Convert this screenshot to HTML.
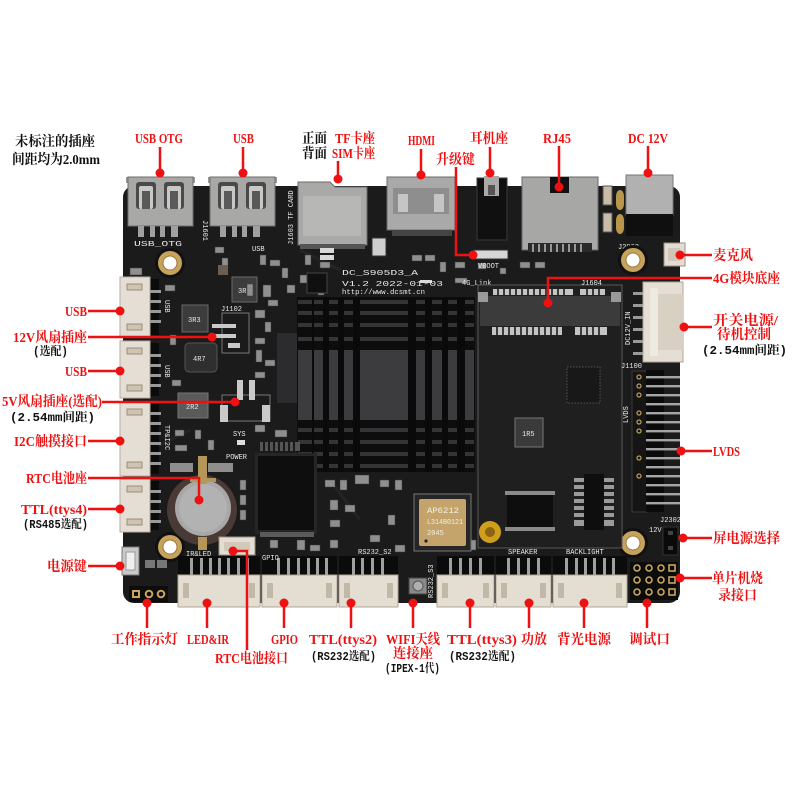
<!DOCTYPE html>
<html><head><meta charset="utf-8">
<style>
html,body{margin:0;padding:0;background:#fff;}
svg{display:block;}
.r{fill:#ee1111;font-family:"Liberation Serif","Noto Serif CJK SC",serif;font-weight:bold;font-size:14px;}
.k{fill:#111;font-family:"Liberation Mono","Noto Serif CJK SC",serif;font-weight:bold;font-size:12px;}
.kb{fill:#111;font-family:"Liberation Serif","Noto Serif CJK SC",serif;font-weight:bold;font-size:14px;}
.s{fill:#e8e8e8;font-family:"Liberation Mono",monospace;font-size:7px;}
.ln{stroke:#ee1111;stroke-width:2.5;fill:none;}
.d{fill:#ee1111;}
</style></head><body>
<svg width="800" height="800" viewBox="0 0 800 800" xmlns="http://www.w3.org/2000/svg">
<rect width="800" height="800" fill="#fff"/>

<!-- ===== BOARD ===== -->
<rect x="123" y="186" width="557" height="417" rx="11" fill="#1b1b1b"/>
<!-- subtle traces -->
<g stroke="#242424" stroke-width="3" fill="none">
<path d="M300 250 L340 270 M150 450 L190 430 M330 480 L360 520 M540 360 L600 420 M500 460 L560 440"/>
</g>

<!-- ===== TOP CONNECTORS ===== -->
<!-- USB OTG -->
<rect x="126" y="177" width="69" height="6" fill="#9a9a98"/>
<rect x="128" y="177" width="65" height="49" fill="#a8a8a6" stroke="#6e6e6e"/>
<rect x="136" y="182" width="20" height="27" rx="3" fill="#4a4a4a"/>
<rect x="139" y="186" width="14" height="23" rx="2" fill="#c8c8c6"/>
<rect x="142" y="191" width="8" height="18" fill="#5a5a5a"/>
<rect x="164" y="182" width="20" height="27" rx="3" fill="#4a4a4a"/>
<rect x="167" y="186" width="14" height="23" rx="2" fill="#c8c8c6"/>
<rect x="170" y="191" width="8" height="18" fill="#5a5a5a"/>
<g fill="#a0a0a0"><rect x="138" y="226" width="6" height="11"/><rect x="150" y="226" width="5" height="11"/><rect x="160" y="226" width="5" height="11"/><rect x="171" y="226" width="7" height="11"/></g>
<text x="134" y="246" class="s" font-size="9" textLength="48" lengthAdjust="spacingAndGlyphs">USB_OTG</text>
<!-- USB -->
<rect x="208" y="177" width="69" height="6" fill="#9a9a98"/>
<rect x="210" y="177" width="65" height="49" fill="#a8a8a6" stroke="#6e6e6e"/>
<rect x="218" y="182" width="20" height="27" rx="3" fill="#4a4a4a"/>
<rect x="221" y="186" width="14" height="23" rx="2" fill="#c8c8c6"/>
<rect x="224" y="191" width="8" height="18" fill="#5a5a5a"/>
<rect x="246" y="182" width="20" height="27" rx="3" fill="#4a4a4a"/>
<rect x="249" y="186" width="14" height="23" rx="2" fill="#c8c8c6"/>
<rect x="252" y="191" width="8" height="18" fill="#5a5a5a"/>
<g fill="#a0a0a0"><rect x="220" y="226" width="6" height="11"/><rect x="232" y="226" width="5" height="11"/><rect x="242" y="226" width="5" height="11"/><rect x="253" y="226" width="7" height="11"/></g>
<text x="252" y="251" class="s" font-size="9">USB</text>
<text x="0" y="0" class="s" transform="translate(203,220) rotate(90)">J1601</text>
<!-- TF card -->
<path d="M298 182 L330 182 L335 187 L367 187 L367 245 L298 245 Z" fill="#a9a9a7" stroke="#6a6a6a"/>
<rect x="303" y="196" width="58" height="40" fill="#b7b7b5"/>
<rect x="300" y="244" width="65" height="5" fill="#555"/>
<text x="0" y="0" class="s" font-size="8" transform="translate(293,245) rotate(-90)">J1603 TF CARD</text>
<!-- HDMI -->
<rect x="387" y="177" width="68" height="53" fill="#a9a9a9" stroke="#6a6a6a"/>
<rect x="393" y="188" width="56" height="26" fill="#8e8e8e"/>
<rect x="398" y="194" width="10" height="18" fill="#c5c5c5"/>
<rect x="434" y="194" width="10" height="18" fill="#c5c5c5"/>
<rect x="392" y="230" width="60" height="6" fill="#444"/>
<rect x="372" y="238" width="14" height="18" fill="#cfcfcf" stroke="#333"/>
<!-- Headphone -->
<rect x="477" y="178" width="30" height="62" fill="#101010" stroke="#3a3a3a"/>
<rect x="484" y="176" width="15" height="20" fill="#a9a9a9"/>
<rect x="488" y="185" width="7" height="10" fill="#555"/>
<!-- RJ45 -->
<rect x="522" y="177" width="76" height="73" fill="#a7a7a5" stroke="#6a6a6a"/>
<rect x="550" y="177" width="19" height="16" fill="#111"/>
<rect x="528" y="243" width="64" height="9" fill="#2a2a2a"/>
<g fill="#9a9a9a"><rect x="532" y="244" width="2" height="8"/><rect x="538" y="244" width="2" height="8"/><rect x="544" y="244" width="2" height="8"/><rect x="550" y="244" width="2" height="8"/><rect x="556" y="244" width="2" height="8"/><rect x="562" y="244" width="2" height="8"/><rect x="568" y="244" width="2" height="8"/><rect x="574" y="244" width="2" height="8"/><rect x="580" y="244" width="2" height="8"/></g>
<rect x="603" y="186" width="9" height="19" fill="#c8bca8" stroke="#555"/>
<rect x="603" y="213" width="9" height="19" fill="#c8bca8" stroke="#555"/>
<!-- DC jack -->
<rect x="626" y="175" width="47" height="40" fill="#b1b1b1" stroke="#777"/>
<rect x="626" y="214" width="47" height="22" fill="#0f0f0f"/>
<path d="M616 196 a4 6 0 0 1 8 0 v8 a4 6 0 0 1 -8 0 z" fill="#b8964c"/>
<path d="M616 220 a4 6 0 0 1 8 0 v8 a4 6 0 0 1 -8 0 z" fill="#b8964c"/>
<!-- MIC -->
<rect x="664" y="243" width="21" height="23" fill="#e2dcd2" stroke="#9a9080"/>
<rect x="668" y="248" width="12" height="13" fill="#cfc6b8"/>
<text x="618" y="249" class="s">J2000</text>

<!-- ===== MOUNTING HOLES ===== -->
<g>
<circle cx="170" cy="263" r="15" fill="#111"/><circle cx="170" cy="263" r="12" fill="#c6a35c"/><circle cx="170" cy="263" r="7" fill="#fff" stroke="#9c7a3a"/>
<circle cx="633" cy="260" r="15" fill="#111"/><circle cx="633" cy="260" r="12" fill="#c6a35c"/><circle cx="633" cy="260" r="7" fill="#fff" stroke="#9c7a3a"/>
<circle cx="633" cy="543" r="15" fill="#111"/><circle cx="633" cy="543" r="12" fill="#c6a35c"/><circle cx="633" cy="543" r="7" fill="#fff" stroke="#9c7a3a"/>
<circle cx="170" cy="547" r="15" fill="#111"/><circle cx="170" cy="547" r="12" fill="#c6a35c"/><circle cx="170" cy="547" r="7" fill="#fff" stroke="#9c7a3a"/>
</g>

<!-- ===== LEFT CONNECTORS ===== -->
<g>
<rect x="150" y="279" width="9" height="56" fill="#0b0b0b"/>
<rect x="120" y="277" width="30" height="60" fill="#e4ded4" stroke="#b7ad9d"/>
<rect x="127" y="284" width="15" height="6" fill="#cfc4b2" stroke="#9a8e7c"/>
<rect x="127" y="324" width="15" height="6" fill="#cfc4b2" stroke="#9a8e7c"/>
<g fill="#9a9a9a"><rect x="150" y="290" width="11" height="3"/><rect x="150" y="300" width="11" height="3"/><rect x="150" y="310" width="11" height="3"/><rect x="150" y="320" width="11" height="3"/></g>

<rect x="150" y="343" width="9" height="53" fill="#0b0b0b"/>
<rect x="120" y="341" width="30" height="57" fill="#e4ded4" stroke="#b7ad9d"/>
<rect x="127" y="348" width="15" height="6" fill="#cfc4b2" stroke="#9a8e7c"/>
<rect x="127" y="385" width="15" height="6" fill="#cfc4b2" stroke="#9a8e7c"/>
<g fill="#9a9a9a"><rect x="150" y="354" width="11" height="3"/><rect x="150" y="364" width="11" height="3"/><rect x="150" y="374" width="11" height="3"/><rect x="150" y="384" width="11" height="3"/></g>

<rect x="150" y="404" width="9" height="70" fill="#0b0b0b"/>
<rect x="120" y="402" width="30" height="74" fill="#e4ded4" stroke="#b7ad9d"/>
<rect x="127" y="409" width="15" height="6" fill="#cfc4b2" stroke="#9a8e7c"/>
<rect x="127" y="462" width="15" height="6" fill="#cfc4b2" stroke="#9a8e7c"/>
<g fill="#9a9a9a"><rect x="150" y="412" width="11" height="3"/><rect x="150" y="422" width="11" height="3"/><rect x="150" y="432" width="11" height="3"/><rect x="150" y="442" width="11" height="3"/><rect x="150" y="452" width="11" height="3"/><rect x="150" y="462" width="11" height="3"/></g>

<rect x="150" y="481" width="9" height="49" fill="#0b0b0b"/>
<rect x="120" y="479" width="30" height="53" fill="#e4ded4" stroke="#b7ad9d"/>
<rect x="127" y="486" width="15" height="6" fill="#cfc4b2" stroke="#9a8e7c"/>
<rect x="127" y="519" width="15" height="6" fill="#cfc4b2" stroke="#9a8e7c"/>
<g fill="#9a9a9a"><rect x="150" y="490" width="11" height="3"/><rect x="150" y="500" width="11" height="3"/><rect x="150" y="510" width="11" height="3"/><rect x="150" y="520" width="11" height="3"/></g>
</g>
<text x="0" y="0" class="s" transform="translate(165,300) rotate(90)">USB</text>
<text x="0" y="0" class="s" transform="translate(165,365) rotate(90)">USB</text>
<text x="0" y="0" class="s" transform="translate(165,425) rotate(90)">TP&amp;I2C</text>
<!-- power button -->
<rect x="122" y="547" width="17" height="28" fill="#c9c9c9" stroke="#777"/>
<rect x="126" y="552" width="9" height="18" fill="#efefef" stroke="#999"/>
<!-- 3-pin header -->
<rect x="129" y="586" width="39" height="16" fill="#0c0c0c"/>
<rect x="133" y="591" width="6" height="6" fill="none" stroke="#c9a55e" stroke-width="2"/>
<circle cx="149" cy="594" r="3.3" fill="none" stroke="#c9a55e" stroke-width="2"/>
<circle cx="161" cy="594" r="3.3" fill="none" stroke="#c9a55e" stroke-width="2"/>
<rect x="145" y="560" width="10" height="8" fill="#777"/><rect x="157" y="560" width="10" height="8" fill="#777"/>

<!-- ===== INDUCTORS / LEFT PARTS ===== -->
<rect x="232" y="277" width="25" height="25" fill="#3c3c3c" stroke="#6a6a6a"/>
<text x="238" y="293" class="s" fill="#111" font-size="8">3R3</text>
<rect x="182" y="305" width="26" height="27" fill="#3c3c3c" stroke="#6a6a6a"/>
<text x="188" y="322" class="s" font-size="8">3R3</text>
<rect x="185" y="343" width="32" height="29" rx="4" fill="#2f2f2f" stroke="#555"/>
<text x="193" y="361" class="s" font-size="8">4R7</text>
<rect x="178" y="393" width="30" height="25" fill="#5a5a5a" stroke="#777"/>
<text x="186" y="409" class="s" fill="#222" font-size="8">2R2</text>
<!-- J1102 -->
<rect x="222" y="313" width="27" height="40" fill="none" stroke="#777"/>
<rect x="212" y="324" width="24" height="4" fill="#c9c9c9"/>
<rect x="212" y="334" width="24" height="4" fill="#c9c9c9"/>
<rect x="228" y="343" width="12" height="5" fill="#c9c9c9"/>
<text x="221" y="311" class="s">J1102</text>
<!-- J1103 -->
<rect x="222" y="395" width="48" height="26" fill="none" stroke="#777"/>
<rect x="237" y="380" width="6" height="20" fill="#c9c9c9"/><rect x="249" y="380" width="6" height="20" fill="#c9c9c9"/>
<rect x="220" y="405" width="8" height="17" fill="#c9c9c9"/><rect x="262" y="405" width="8" height="17" fill="#c9c9c9"/>
<!-- SYS / POWER -->
<text x="233" y="436" class="s">SYS</text>
<rect x="237" y="440" width="8" height="5" fill="#ddd"/>
<text x="226" y="459" class="s">POWER</text>

<!-- small SMD scatter -->
<g fill="#8f8f8f" stroke="#3a3a3a" stroke-width="0.5">
<rect x="130" y="268" width="12" height="7"/><rect x="215" y="247" width="9" height="6"/><rect x="222" y="258" width="6" height="10"/>
<rect x="260" y="255" width="6" height="10"/><rect x="270" y="260" width="10" height="6"/><rect x="282" y="268" width="6" height="10"/>
<rect x="247" y="284" width="6" height="12"/><rect x="263" y="285" width="8" height="12"/><rect x="268" y="300" width="10" height="6"/>
<rect x="255" y="310" width="10" height="8"/><rect x="265" y="322" width="6" height="10"/><rect x="255" y="338" width="10" height="6"/>
<rect x="256" y="350" width="6" height="12"/><rect x="265" y="360" width="10" height="6"/><rect x="255" y="372" width="10" height="6"/>
<rect x="165" y="285" width="10" height="6"/><rect x="170" y="335" width="6" height="10"/><rect x="172" y="380" width="9" height="6"/>
<rect x="175" y="430" width="9" height="6"/><rect x="195" y="430" width="6" height="9"/><rect x="175" y="445" width="12" height="6"/>
<rect x="208" y="440" width="6" height="10"/><rect x="255" y="425" width="10" height="7"/><rect x="275" y="430" width="12" height="7"/>
<rect x="305" y="255" width="6" height="10"/><rect x="320" y="262" width="10" height="6"/><rect x="300" y="275" width="10" height="8"/>
<rect x="318" y="285" width="6" height="10"/><rect x="287" y="285" width="8" height="8"/>
<rect x="412" y="255" width="10" height="6"/><rect x="425" y="255" width="10" height="6"/><rect x="440" y="262" width="6" height="10"/>
<rect x="455" y="262" width="10" height="6"/><rect x="478" y="263" width="8" height="6"/><rect x="520" y="262" width="10" height="6"/>
<rect x="535" y="262" width="10" height="6"/><rect x="500" y="268" width="6" height="6"/><rect x="455" y="278" width="12" height="5"/>
<rect x="325" y="480" width="10" height="7"/><rect x="340" y="480" width="7" height="10"/><rect x="355" y="475" width="14" height="9"/>
<rect x="380" y="480" width="9" height="7"/><rect x="395" y="480" width="7" height="10"/><rect x="330" y="500" width="8" height="10"/>
<rect x="345" y="505" width="10" height="7"/><rect x="330" y="520" width="10" height="7"/><rect x="388" y="515" width="7" height="10"/>
<rect x="370" y="535" width="10" height="7"/><rect x="330" y="540" width="8" height="8"/><rect x="395" y="545" width="10" height="7"/>
<rect x="240" y="480" width="6" height="10"/><rect x="240" y="495" width="6" height="10"/><rect x="240" y="510" width="6" height="10"/>
<rect x="297" y="540" width="8" height="10"/><rect x="310" y="545" width="10" height="6"/><rect x="270" y="540" width="8" height="8"/>
<rect x="498" y="345" width="10" height="6"/><rect x="515" y="350" width="14" height="6"/><rect x="540" y="345" width="8" height="8"/>
<rect x="555" y="352" width="10" height="6"/><rect x="580" y="345" width="6" height="10"/><rect x="592" y="345" width="6" height="10"/>
<rect x="484" y="385" width="12" height="8"/><rect x="490" y="400" width="8" height="8"/><rect x="500" y="425" width="8" height="8"/>
<rect x="570" y="432" width="10" height="8"/><rect x="590" y="432" width="10" height="8"/><rect x="500" y="455" width="14" height="8"/>
<rect x="520" y="455" width="10" height="8"/><rect x="540" y="460" width="8" height="8"/><rect x="502" y="480" width="20" height="8"/>
<rect x="545" y="478" width="8" height="10"/><rect x="560" y="530" width="6" height="10"/><rect x="510" y="535" width="30" height="6"/>
<rect x="585" y="540" width="16" height="6"/><rect x="612" y="400" width="6" height="10"/><rect x="612" y="470" width="6" height="20"/>
<rect x="585" y="372" width="3" height="3"/><rect x="470" y="540" width="6" height="10"/>
</g>
<g fill="#d9d9d9">
<rect x="320" y="248" width="14" height="5"/><rect x="320" y="255" width="14" height="5"/>
<rect x="420" y="280" width="12" height="3"/><rect x="498" y="500" width="6" height="12"/>
</g>

<!-- ===== SILK TEXT ===== -->
<text x="342" y="275" class="s" font-size="11" fill="#f2f2f2" textLength="76" lengthAdjust="spacingAndGlyphs">DC_S905D3_A</text>
<text x="342" y="286" class="s" font-size="11" fill="#f2f2f2" textLength="101" lengthAdjust="spacingAndGlyphs">V1.2 2022-01-03</text>
<text x="342" y="294" class="s" font-size="7" fill="#dcdcdc" textLength="83" lengthAdjust="spacingAndGlyphs">http://www.dcsmt.cn</text>
<rect x="474" y="250" width="34" height="9" fill="#d7d7d7" stroke="#333"/>
<text x="478" y="268" class="s">VBOOT</text>
<text x="462" y="285" class="s" font-size="6">4G_Link</text>

<!-- ===== HEATSINK ===== -->
<rect x="277" y="333" width="22" height="70" fill="#2c2c2e"/>
<rect x="297" y="297" width="178" height="175" fill="#0d0d0e"/>
<g fill="#353537">
<rect x="298" y="300" width="176" height="4"/><rect x="298" y="311" width="176" height="4"/><rect x="298" y="323" width="176" height="4"/><rect x="298" y="337" width="176" height="4"/>
<rect x="298" y="428" width="176" height="4"/><rect x="298" y="440" width="176" height="4"/><rect x="298" y="452" width="176" height="4"/><rect x="298" y="464" width="176" height="4"/>
</g>
<g fill="#3c3c3e">
<rect x="298" y="350" width="14" height="70"/><rect x="313" y="350" width="10" height="70"/><rect x="329" y="350" width="9" height="70"/><rect x="344" y="350" width="9" height="70"/>
<rect x="360" y="350" width="48" height="70"/>
<rect x="416" y="350" width="9" height="70"/><rect x="432" y="350" width="10" height="70"/><rect x="448" y="350" width="9" height="70"/><rect x="465" y="350" width="9" height="70"/>
</g>
<g fill="#0a0a0b">
<rect x="312" y="297" width="2" height="175"/><rect x="323" y="297" width="6" height="175"/><rect x="338" y="297" width="6" height="175"/><rect x="353" y="297" width="7" height="175"/>
<rect x="408" y="297" width="8" height="175"/><rect x="425" y="297" width="7" height="175"/><rect x="442" y="297" width="6" height="175"/><rect x="457" y="297" width="8" height="175"/>
</g>

<!-- ===== MAIN CHIP ===== -->
<rect x="255" y="453" width="62" height="81" fill="#262626"/>
<rect x="258" y="456" width="56" height="74" fill="#0e0e0e"/>
<rect x="260" y="532" width="54" height="5" fill="#5a5a5a"/>
<rect x="260" y="442" width="40" height="9" fill="#555"/>
<g fill="#1a1a1a"><rect x="263" y="442" width="2" height="9"/><rect x="268" y="442" width="2" height="9"/><rect x="273" y="442" width="2" height="9"/><rect x="278" y="442" width="2" height="9"/><rect x="283" y="442" width="2" height="9"/><rect x="288" y="442" width="2" height="9"/><rect x="293" y="442" width="2" height="9"/></g>
<!-- chip 1 small near top -->
<rect x="307" y="273" width="20" height="20" fill="#101010" stroke="#444"/>
<rect x="218" y="265" width="10" height="10" fill="#6b5d50"/>

<!-- ===== RTC BATTERY ===== -->
<rect x="170" y="463" width="23" height="9" fill="#8e8e8e"/>
<rect x="208" y="463" width="25" height="9" fill="#8e8e8e"/>
<circle cx="202" cy="510" r="35" fill="#4a3a35"/>
<circle cx="203" cy="508" r="28" fill="#a8a8a8"/>
<circle cx="203" cy="508" r="24" fill="#b2b2b2"/>
<rect x="198" y="456" width="9" height="28" fill="#b39658"/>
<rect x="190" y="478" width="26" height="4" fill="#b39658"/>
<rect x="198" y="537" width="9" height="13" fill="#b39658"/>
<!-- RTC small connector -->
<rect x="219" y="537" width="36" height="18" fill="#e3ddd3" stroke="#9a9080"/>
<rect x="224" y="542" width="26" height="9" fill="#d2c9bb"/>

<!-- ===== 4G SLOT / MODULE AREA ===== -->
<rect x="478" y="285" width="144" height="263" fill="#1f1f1f" stroke="#5a5a5a"/>
<rect x="480" y="296" width="140" height="30" fill="#3b3b3b"/>
<rect x="478" y="292" width="10" height="10" fill="#9a9a9a"/>
<rect x="611" y="292" width="10" height="10" fill="#9a9a9a"/>
<g fill="#c4c4c4">
<rect x="493" y="289" width="80" height="6"/><rect x="580" y="289" width="25" height="6"/>
<rect x="492" y="327" width="70" height="8"/><rect x="575" y="327" width="32" height="8"/>
</g>
<g fill="#3b3b3b">
<rect x="497" y="289" width="2" height="6"/><rect x="503" y="289" width="2" height="6"/><rect x="509" y="289" width="2" height="6"/><rect x="515" y="289" width="2" height="6"/><rect x="521" y="289" width="2" height="6"/><rect x="527" y="289" width="2" height="6"/><rect x="533" y="289" width="2" height="6"/><rect x="539" y="289" width="2" height="6"/><rect x="545" y="289" width="2" height="6"/><rect x="551" y="289" width="2" height="6"/><rect x="557" y="289" width="2" height="6"/><rect x="563" y="289" width="2" height="6"/><rect x="586" y="289" width="2" height="6"/><rect x="592" y="289" width="2" height="6"/><rect x="598" y="289" width="2" height="6"/>
<rect x="496" y="327" width="2" height="8"/><rect x="502" y="327" width="2" height="8"/><rect x="508" y="327" width="2" height="8"/><rect x="514" y="327" width="2" height="8"/><rect x="520" y="327" width="2" height="8"/><rect x="526" y="327" width="2" height="8"/><rect x="532" y="327" width="2" height="8"/><rect x="538" y="327" width="2" height="8"/><rect x="544" y="327" width="2" height="8"/><rect x="550" y="327" width="2" height="8"/><rect x="556" y="327" width="2" height="8"/><rect x="580" y="327" width="2" height="8"/><rect x="586" y="327" width="2" height="8"/><rect x="592" y="327" width="2" height="8"/><rect x="598" y="327" width="2" height="8"/>
</g>
<text x="581" y="285" class="s" font-size="6">J1604</text>
<!-- QFN -->
<rect x="567" y="367" width="33" height="36" fill="#181818" stroke="#555" stroke-dasharray="1.5 1.5"/>
<!-- 1R5 -->
<rect x="515" y="418" width="28" height="29" fill="#3a3a3a" stroke="#777"/>
<text x="522" y="436" class="s" fill="#111" font-size="8">1R5</text>
<!-- SOIC -->
<rect x="505" y="491" width="50" height="4" fill="#8a8a8a"/>
<rect x="505" y="527" width="50" height="4" fill="#8a8a8a"/>
<rect x="507" y="495" width="46" height="32" fill="#0e0e0e"/>
<!-- SOP tall -->
<rect x="574" y="478" width="40" height="48" fill="#9a9a9a"/>
<g fill="#1f1f1f"><rect x="574" y="482" width="40" height="3"/><rect x="574" y="489" width="40" height="3"/><rect x="574" y="496" width="40" height="3"/><rect x="574" y="503" width="40" height="3"/><rect x="574" y="510" width="40" height="3"/><rect x="574" y="517" width="40" height="3"/></g>
<rect x="584" y="474" width="20" height="56" fill="#0e0e0e"/>
<!-- WiFi module -->
<rect x="414" y="494" width="57" height="57" fill="#262626" stroke="#777"/>
<rect x="419" y="499" width="47" height="47" rx="2" fill="#c4a46a"/>
<text x="427" y="513" fill="#f4efe4" font-family="Liberation Mono,monospace" font-size="8" textLength="32" lengthAdjust="spacingAndGlyphs">AP6212</text>
<text x="427" y="524" fill="#f4efe4" font-family="Liberation Mono,monospace" font-size="7" textLength="36" lengthAdjust="spacingAndGlyphs">L314B0121</text>
<text x="427" y="535" fill="#f4efe4" font-family="Liberation Mono,monospace" font-size="7">2045</text>
<circle cx="426" cy="541" r="1.6" fill="#222"/>
<!-- yellow cap -->
<circle cx="490" cy="532" r="11" fill="#cf9e1c"/>
<circle cx="490" cy="532" r="5" fill="#8a6410"/>

<!-- ===== RIGHT SIDE ===== -->
<!-- power connector -->
<g fill="#9a9a9a"><rect x="633" y="292" width="12" height="3"/><rect x="633" y="304" width="12" height="3"/><rect x="633" y="316" width="12" height="3"/><rect x="633" y="328" width="12" height="3"/><rect x="633" y="340" width="12" height="3"/><rect x="633" y="352" width="12" height="3"/></g>
<rect x="643" y="282" width="40" height="80" fill="#e4ded4" stroke="#b0a696"/>
<rect x="658" y="294" width="25" height="56" fill="#d8d0c2"/>
<rect x="650" y="288" width="8" height="68" fill="#eee9e1"/>
<text x="0" y="0" class="s" font-size="8" transform="translate(630,345) rotate(-90)">DC12V_IN</text>
<text x="621" y="368" class="s" font-size="6">J1100</text>
<!-- LVDS header -->
<rect x="632" y="371" width="16" height="141" fill="#151515" stroke="#3a3a3a"/>
<rect x="646" y="370" width="18" height="142" fill="#0b0b0b"/>
<g fill="#a5a5a5">
<rect x="646" y="376" width="34" height="2.4"/><rect x="646" y="385" width="34" height="2.4"/><rect x="646" y="394" width="34" height="2.4"/><rect x="646" y="403" width="34" height="2.4"/><rect x="646" y="412" width="34" height="2.4"/><rect x="646" y="421" width="34" height="2.4"/><rect x="646" y="430" width="34" height="2.4"/><rect x="646" y="439" width="34" height="2.4"/><rect x="646" y="448" width="34" height="2.4"/><rect x="646" y="457" width="34" height="2.4"/><rect x="646" y="466" width="34" height="2.4"/><rect x="646" y="475" width="34" height="2.4"/><rect x="646" y="484" width="34" height="2.4"/><rect x="646" y="493" width="34" height="2.4"/><rect x="646" y="502" width="34" height="2.4"/>
</g>
<g fill="none" stroke="#b89a58" stroke-width="1.3">
<circle cx="639" cy="377" r="2"/><circle cx="639" cy="386" r="2"/><circle cx="639" cy="395" r="2"/><circle cx="639" cy="413" r="2"/><circle cx="639" cy="422" r="2"/><circle cx="639" cy="431" r="2"/><circle cx="639" cy="458" r="2"/><circle cx="639" cy="476" r="2"/>
</g>
<text x="0" y="0" class="s" transform="translate(628,423) rotate(-90)">LVDS</text>
<!-- jumper -->
<rect x="663" y="527" width="15" height="28" fill="#0a0a0a" stroke="#333"/>
<rect x="668" y="531" width="5" height="4" fill="#444"/><rect x="668" y="546" width="5" height="4" fill="#444"/>
<text x="649" y="532" class="s">12V</text>
<text x="660" y="522" class="s" font-size="6">J2302</text>
<!-- debug header -->
<rect x="630" y="562" width="48" height="38" fill="#0c0c0c"/>
<g fill="none" stroke="#c9a55e" stroke-width="1.6">
<circle cx="637" cy="568" r="3"/><circle cx="649" cy="568" r="3"/><circle cx="661" cy="568" r="3"/><rect x="669" y="565" width="6" height="6"/>
<circle cx="637" cy="580" r="3"/><circle cx="649" cy="580" r="3"/><circle cx="661" cy="580" r="3"/><rect x="669" y="577" width="6" height="6"/>
<circle cx="637" cy="592" r="3"/><circle cx="649" cy="592" r="3"/><circle cx="661" cy="592" r="3"/><rect x="669" y="589" width="6" height="6"/>
</g>

<!-- ===== BOTTOM CONNECTORS ===== -->
<g>
<rect x="178" y="556" width="82" height="20" fill="#0b0b0b"/>
<g fill="#a0a0a0"><rect x="190" y="558" width="3" height="19"/><rect x="200" y="558" width="3" height="19"/><rect x="209" y="558" width="3" height="19"/><rect x="218" y="558" width="3" height="19"/><rect x="227" y="558" width="3" height="19"/><rect x="237" y="558" width="3" height="19"/><rect x="246" y="558" width="3" height="19"/></g>
<rect x="178" y="575" width="82" height="32" fill="#e4ddd2" stroke="#b0a696"/>
<rect x="183" y="583" width="6" height="15" fill="#c2b8a8"/><rect x="249" y="583" width="6" height="15" fill="#c2b8a8"/>

<rect x="262" y="556" width="75" height="20" fill="#0b0b0b"/>
<g fill="#a0a0a0"><rect x="277" y="558" width="3" height="19"/><rect x="287" y="558" width="3" height="19"/><rect x="297" y="558" width="3" height="19"/><rect x="307" y="558" width="3" height="19"/><rect x="316" y="558" width="3" height="19"/><rect x="325" y="558" width="3" height="19"/></g>
<rect x="262" y="575" width="75" height="32" fill="#e4ddd2" stroke="#b0a696"/>
<rect x="267" y="583" width="6" height="15" fill="#c2b8a8"/><rect x="326" y="583" width="6" height="15" fill="#c2b8a8"/>

<rect x="339" y="556" width="59" height="20" fill="#0b0b0b"/>
<g fill="#a0a0a0"><rect x="352" y="558" width="3" height="19"/><rect x="361" y="558" width="3" height="19"/><rect x="371" y="558" width="3" height="19"/><rect x="381" y="558" width="3" height="19"/></g>
<rect x="339" y="575" width="59" height="32" fill="#e4ddd2" stroke="#b0a696"/>
<rect x="344" y="583" width="6" height="15" fill="#c2b8a8"/><rect x="387" y="583" width="6" height="15" fill="#c2b8a8"/>

<rect x="437" y="556" width="57" height="20" fill="#0b0b0b"/>
<g fill="#a0a0a0"><rect x="449" y="558" width="3" height="19"/><rect x="459" y="558" width="3" height="19"/><rect x="469" y="558" width="3" height="19"/><rect x="479" y="558" width="3" height="19"/></g>
<rect x="437" y="575" width="57" height="32" fill="#e4ddd2" stroke="#b0a696"/>
<rect x="442" y="583" width="6" height="15" fill="#c2b8a8"/><rect x="483" y="583" width="6" height="15" fill="#c2b8a8"/>

<rect x="496" y="556" width="55" height="20" fill="#0b0b0b"/>
<g fill="#a0a0a0"><rect x="507" y="558" width="3" height="19"/><rect x="517" y="558" width="3" height="19"/><rect x="527" y="558" width="3" height="19"/><rect x="537" y="558" width="3" height="19"/></g>
<rect x="496" y="575" width="55" height="32" fill="#e4ddd2" stroke="#b0a696"/>
<rect x="501" y="583" width="6" height="15" fill="#c2b8a8"/><rect x="540" y="583" width="6" height="15" fill="#c2b8a8"/>

<rect x="553" y="556" width="74" height="20" fill="#0b0b0b"/>
<g fill="#a0a0a0"><rect x="565" y="558" width="3" height="19"/><rect x="575" y="558" width="3" height="19"/><rect x="584" y="558" width="3" height="19"/><rect x="593" y="558" width="3" height="19"/><rect x="603" y="558" width="3" height="19"/><rect x="612" y="558" width="3" height="19"/></g>
<rect x="553" y="575" width="74" height="32" fill="#e4ddd2" stroke="#b0a696"/>
<rect x="558" y="583" width="6" height="15" fill="#c2b8a8"/><rect x="616" y="583" width="6" height="15" fill="#c2b8a8"/>
</g>
<!-- antenna -->
<rect x="409" y="578" width="18" height="16" fill="#8a8a8a" stroke="#444"/>
<circle cx="418" cy="586" r="5" fill="#b0b0b0" stroke="#555"/>
<text x="0" y="0" class="s" font-size="6" transform="translate(433,598) rotate(-90)">RS232_S3</text>
<text x="186" y="556" class="s" font-size="6">IR&amp;LED</text>
<text x="262" y="560" class="s" font-size="6">GPIO</text>
<text x="358" y="554" class="s" font-size="6">RS232_S2</text>
<text x="508" y="554" class="s" font-size="6">SPEAKER</text>
<text x="566" y="554" class="s" font-size="6">BACKLIGHT</text>

<!-- ===== LABELS: TOP ===== -->
<text x="15" y="146" class="kb" font-size="14" textLength="80" lengthAdjust="spacingAndGlyphs">未标注的插座</text>
<text x="12" y="164" class="kb" font-size="14" textLength="88" lengthAdjust="spacingAndGlyphs">间距均为2.0mm</text>

<text x="135" y="143" class="r" textLength="48" lengthAdjust="spacingAndGlyphs">USB OTG</text>
<path class="ln" d="M160 147 V173"/><circle class="d" cx="160" cy="173" r="4.5"/>
<text x="233" y="143" class="r" textLength="21" lengthAdjust="spacingAndGlyphs">USB</text>
<path class="ln" d="M243 147 V173"/><circle class="d" cx="243" cy="173" r="4.5"/>
<text x="302" y="143" class="kb" textLength="25" lengthAdjust="spacingAndGlyphs">正面</text>
<text x="335" y="143" class="r" textLength="40" lengthAdjust="spacingAndGlyphs">TF卡座</text>
<text x="302" y="158" class="kb" textLength="25" lengthAdjust="spacingAndGlyphs">背面</text>
<text x="332" y="158" class="r" textLength="43" lengthAdjust="spacingAndGlyphs">SIM卡座</text>
<path class="ln" d="M338 161 V179"/><circle class="d" cx="338" cy="179" r="4.5"/>
<text x="408" y="145" class="r" textLength="27" lengthAdjust="spacingAndGlyphs">HDMI</text>
<path class="ln" d="M421 149 V175"/><circle class="d" cx="421" cy="175" r="4.5"/>
<text x="470" y="143" class="r" textLength="38" lengthAdjust="spacingAndGlyphs">耳机座</text>
<path class="ln" d="M490 147 V173"/><circle class="d" cx="490" cy="173" r="4.5"/>
<text x="436" y="164" class="r" textLength="39" lengthAdjust="spacingAndGlyphs">升级键</text>
<path class="ln" d="M456 167 V255 H473" stroke-width="2"/><circle class="d" cx="473" cy="255" r="4.5"/>
<text x="543" y="143" class="r" textLength="28" lengthAdjust="spacingAndGlyphs">RJ45</text>
<path class="ln" d="M559 146 V187"/><circle class="d" cx="559" cy="187" r="4.5"/>
<text x="628" y="143" class="r" textLength="40" lengthAdjust="spacingAndGlyphs">DC 12V</text>
<path class="ln" d="M648 146 V173"/><circle class="d" cx="648" cy="173" r="4.5"/>

<!-- ===== LABELS: RIGHT ===== -->
<text x="713" y="260" class="r" textLength="40" lengthAdjust="spacingAndGlyphs">麦克风</text>
<path class="ln" d="M680 255 H712"/><circle class="d" cx="680" cy="255" r="4.5"/>
<text x="713" y="283" class="r" textLength="67" lengthAdjust="spacingAndGlyphs">4G模块底座</text>
<path class="ln" d="M712 278 H548 V303"/><circle class="d" cx="548" cy="303" r="4.5"/>
<text x="713" y="325" class="r" textLength="65" lengthAdjust="spacingAndGlyphs">开关电源/</text>
<text x="717" y="339" class="r" textLength="54" lengthAdjust="spacingAndGlyphs">待机控制</text>
<text x="702" y="354" class="k" textLength="85" lengthAdjust="spacingAndGlyphs">(2.54mm间距)</text>
<path class="ln" d="M684 327 H712"/><circle class="d" cx="684" cy="327" r="4.5"/>
<text x="713" y="456" class="r" textLength="27" lengthAdjust="spacingAndGlyphs">LVDS</text>
<path class="ln" d="M681 451 H712"/><circle class="d" cx="681" cy="451" r="4.5"/>
<text x="713" y="543" class="r" textLength="67" lengthAdjust="spacingAndGlyphs">屏电源选择</text>
<path class="ln" d="M683 538 H712"/><circle class="d" cx="683" cy="538" r="4.5"/>
<text x="712" y="583" class="r" textLength="51" lengthAdjust="spacingAndGlyphs">单片机烧</text>
<text x="718" y="600" class="r" textLength="39" lengthAdjust="spacingAndGlyphs">录接口</text>
<path class="ln" d="M680 578 H712"/><circle class="d" cx="680" cy="578" r="4.5"/>

<!-- ===== LABELS: LEFT ===== -->
<text x="65" y="316" class="r" textLength="22" lengthAdjust="spacingAndGlyphs">USB</text>
<path class="ln" d="M88 311 H120"/><circle class="d" cx="120" cy="311" r="4.5"/>
<text x="13" y="342" class="r" textLength="74" lengthAdjust="spacingAndGlyphs">12V风扇插座</text>
<text x="33" y="355" class="k" textLength="35" lengthAdjust="spacingAndGlyphs">(选配)</text>
<path class="ln" d="M88 337 H212"/><circle class="d" cx="212" cy="337" r="4.5"/>
<text x="65" y="376" class="r" textLength="22" lengthAdjust="spacingAndGlyphs">USB</text>
<path class="ln" d="M88 371 H120"/><circle class="d" cx="120" cy="371" r="4.5"/>
<text x="2" y="406" class="r" textLength="100" lengthAdjust="spacingAndGlyphs">5V风扇插座(选配)</text>
<text x="10" y="421" class="k" textLength="85" lengthAdjust="spacingAndGlyphs">(2.54mm间距)</text>
<path class="ln" d="M102 402 H235"/><circle class="d" cx="235" cy="402" r="4.5"/>
<text x="14" y="446" class="r" textLength="73" lengthAdjust="spacingAndGlyphs">I2C触摸接口</text>
<path class="ln" d="M88 441 H120"/><circle class="d" cx="120" cy="441" r="4.5"/>
<text x="26" y="483" class="r" textLength="61" lengthAdjust="spacingAndGlyphs">RTC电池座</text>
<path class="ln" d="M88 478 H199 V500"/><circle class="d" cx="199" cy="500" r="4.5"/>
<text x="21" y="514" class="r" textLength="66" lengthAdjust="spacingAndGlyphs">TTL(ttys4)</text>
<text x="23" y="528" class="k" textLength="65" lengthAdjust="spacingAndGlyphs">(RS485选配)</text>
<path class="ln" d="M88 509 H120"/><circle class="d" cx="120" cy="509" r="4.5"/>
<text x="47" y="571" class="r" textLength="40" lengthAdjust="spacingAndGlyphs">电源键</text>
<path class="ln" d="M88 566 H120"/><circle class="d" cx="120" cy="566" r="4.5"/>

<!-- ===== LABELS: BOTTOM ===== -->
<path class="ln" d="M147 603 V628"/><circle class="d" cx="147" cy="603" r="4.5"/>
<text x="111" y="644" class="r" textLength="67" lengthAdjust="spacingAndGlyphs">工作指示灯</text>
<path class="ln" d="M207 603 V628"/><circle class="d" cx="207" cy="603" r="4.5"/>
<text x="187" y="644" class="r" textLength="42" lengthAdjust="spacingAndGlyphs">LED&amp;IR</text>
<path class="ln" d="M233 551 H247 V650"/><circle class="d" cx="233" cy="551" r="4.5"/>
<text x="215" y="663" class="r" textLength="73" lengthAdjust="spacingAndGlyphs">RTC电池接口</text>
<path class="ln" d="M284 603 V628"/><circle class="d" cx="284" cy="603" r="4.5"/>
<text x="271" y="644" class="r" textLength="27" lengthAdjust="spacingAndGlyphs">GPIO</text>
<path class="ln" d="M351 603 V628"/><circle class="d" cx="351" cy="603" r="4.5"/>
<text x="309" y="644" class="r" textLength="68" lengthAdjust="spacingAndGlyphs">TTL(ttys2)</text>
<text x="311" y="660" class="k" textLength="65" lengthAdjust="spacingAndGlyphs">(RS232选配)</text>
<path class="ln" d="M413 603 V628"/><circle class="d" cx="413" cy="603" r="4.5"/>
<text x="386" y="644" class="r" textLength="54" lengthAdjust="spacingAndGlyphs">WIFI天线</text>
<text x="393" y="658" class="r" textLength="40" lengthAdjust="spacingAndGlyphs">连接座</text>
<text x="385" y="672" class="k" font-size="11" textLength="55" lengthAdjust="spacingAndGlyphs">(IPEX-1代)</text>
<path class="ln" d="M470 603 V628"/><circle class="d" cx="470" cy="603" r="4.5"/>
<text x="447" y="644" class="r" textLength="70" lengthAdjust="spacingAndGlyphs">TTL(ttys3)</text>
<text x="449" y="660" class="k" textLength="67" lengthAdjust="spacingAndGlyphs">(RS232选配)</text>
<path class="ln" d="M529 603 V628"/><circle class="d" cx="529" cy="603" r="4.5"/>
<text x="521" y="644" class="r" textLength="26" lengthAdjust="spacingAndGlyphs">功放</text>
<path class="ln" d="M584 603 V628"/><circle class="d" cx="584" cy="603" r="4.5"/>
<text x="557" y="644" class="r" textLength="54" lengthAdjust="spacingAndGlyphs">背光电源</text>
<path class="ln" d="M647 603 V628"/><circle class="d" cx="647" cy="603" r="4.5"/>
<text x="629" y="644" class="r" textLength="41" lengthAdjust="spacingAndGlyphs">调试口</text>
</svg>
</body></html>
